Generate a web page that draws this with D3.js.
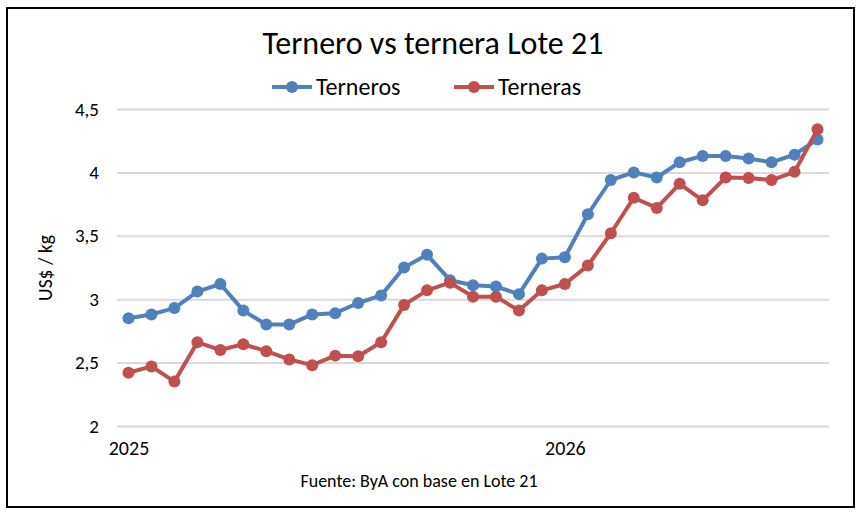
<!DOCTYPE html>
<html>
<head>
<meta charset="utf-8">
<script src="https://cdn.jsdelivr.net/npm/d3@7"></script>
<style>
  body { margin: 0; background: #fff; }
  svg { font-family: Carlito, Calibri, Lato, sans-serif; }
</style>
</head>
<body>
<svg width="861" height="512"></svg>
<script>
// data
var periods = d3.range(31);
var xTicks = [0, 19];
var xTickLabels = ['2025', '2026'];
var terneros = [2.85, 2.88, 2.93, 3.06, 3.12, 2.91, 2.80, 2.80, 2.88, 2.89,
    2.97, 3.03, 3.25, 3.35, 3.15, 3.11, 3.10, 3.04, 3.32, 3.33,
    3.67, 3.94, 4.00, 3.96, 4.08, 4.13, 4.13, 4.11, 4.08, 4.14, 4.26];
var terneras = [2.42, 2.47, 2.35, 2.66, 2.60, 2.645, 2.59, 2.525, 2.48, 2.555,
    2.55, 2.66, 2.955, 3.07, 3.13, 3.02, 3.02, 2.91, 3.07, 3.12,
    3.265, 3.52, 3.80, 3.72, 3.91, 3.78, 3.96, 3.955, 3.94, 4.005, 4.34];
var yTicks = [2, 2.5, 3, 3.5, 4, 4.5];
var seriesNames = ['Terneros', 'Terneras'];
var colors = ['#4F81BD', '#C0504D'];

let svg = d3.select('svg');
let font = 'Carlito, Calibri, Lato, sans-serif';

// frame
svg.append('rect').attr('x', 7).attr('y', 8).attr('width', 847).attr('height', 499)
    .attr('fill', '#fff').attr('stroke', '#000').attr('stroke-width', 2);

let xScale = d3.scalePoint().domain(periods).range([117, 829]).padding(0.5);
let yScale = d3.scaleLinear().domain([2, 4.5]).range([426, 109]);

// gridlines + y labels
let yAxis = d3.axisLeft(yScale).tickValues(yTicks)
    .tickSize(-(829 - 117)).tickPadding(18)
    .tickFormat(d => String(d).replace('.', ','));
let yG = svg.append('g').attr('transform', 'translate(117,0)').call(yAxis);
yG.select('.domain').remove();
yG.selectAll('.tick line').attr('stroke', '#D9D9D9').attr('stroke-width', 2);
yG.selectAll('.tick text').attr('font-size', 19).attr('fill', '#000')
    .attr('font-family', font);

// x labels
let xAxis = d3.axisBottom(xScale).tickValues(xTicks).tickSize(0).tickPadding(10)
    .tickFormat((d, i) => xTickLabels[i]);
let xG = svg.append('g').attr('transform', 'translate(0,431)').call(xAxis);
xG.select('.domain').remove();
xG.selectAll('.tick text').attr('font-size', 20).attr('fill', '#000')
    .attr('font-family', font);

// lines
let line = d3.line().x((d, i) => xScale(periods[i])).y(d => yScale(d));
[terneros, terneras].forEach(function (vals, k) {
    svg.append('path').datum(vals).attr('d', line)
        .attr('fill', 'none').attr('stroke', colors[k]).attr('stroke-width', 4)
        .attr('stroke-linejoin', 'round');
    svg.append('g').selectAll('circle').data(vals).enter().append('circle')
        .attr('cx', (d, i) => xScale(periods[i]))
        .attr('cy', d => yScale(d))
        .attr('r', 6).attr('fill', colors[k]);
});

// title
svg.append('text').attr('x', 433).attr('y', 54).attr('text-anchor', 'middle')
    .attr('font-size', 32).text('Ternero vs ternera Lote 21');

// legend
let legX = [272, 454];
seriesNames.forEach(function (name, k) {
    let g = svg.append('g').attr('transform', 'translate(' + legX[k] + ',87)');
    g.append('line').attr('x1', 0).attr('x2', 40).attr('stroke', colors[k]).attr('stroke-width', 4);
    g.append('circle').attr('cx', 20).attr('r', 6).attr('fill', colors[k]);
    g.append('text').attr('x', 44).attr('y', 8).attr('font-size', 24).text(name);
});

// y title
svg.append('text').attr('transform', 'translate(52,268) rotate(-90)')
    .attr('text-anchor', 'middle').attr('font-size', 19.5).text('US$ / kg');

// source
svg.append('text').attr('x', 419).attr('y', 487).attr('text-anchor', 'middle')
    .attr('font-size', 18).text('Fuente: ByA con base en Lote 21');
</script>
</body>
</html>
